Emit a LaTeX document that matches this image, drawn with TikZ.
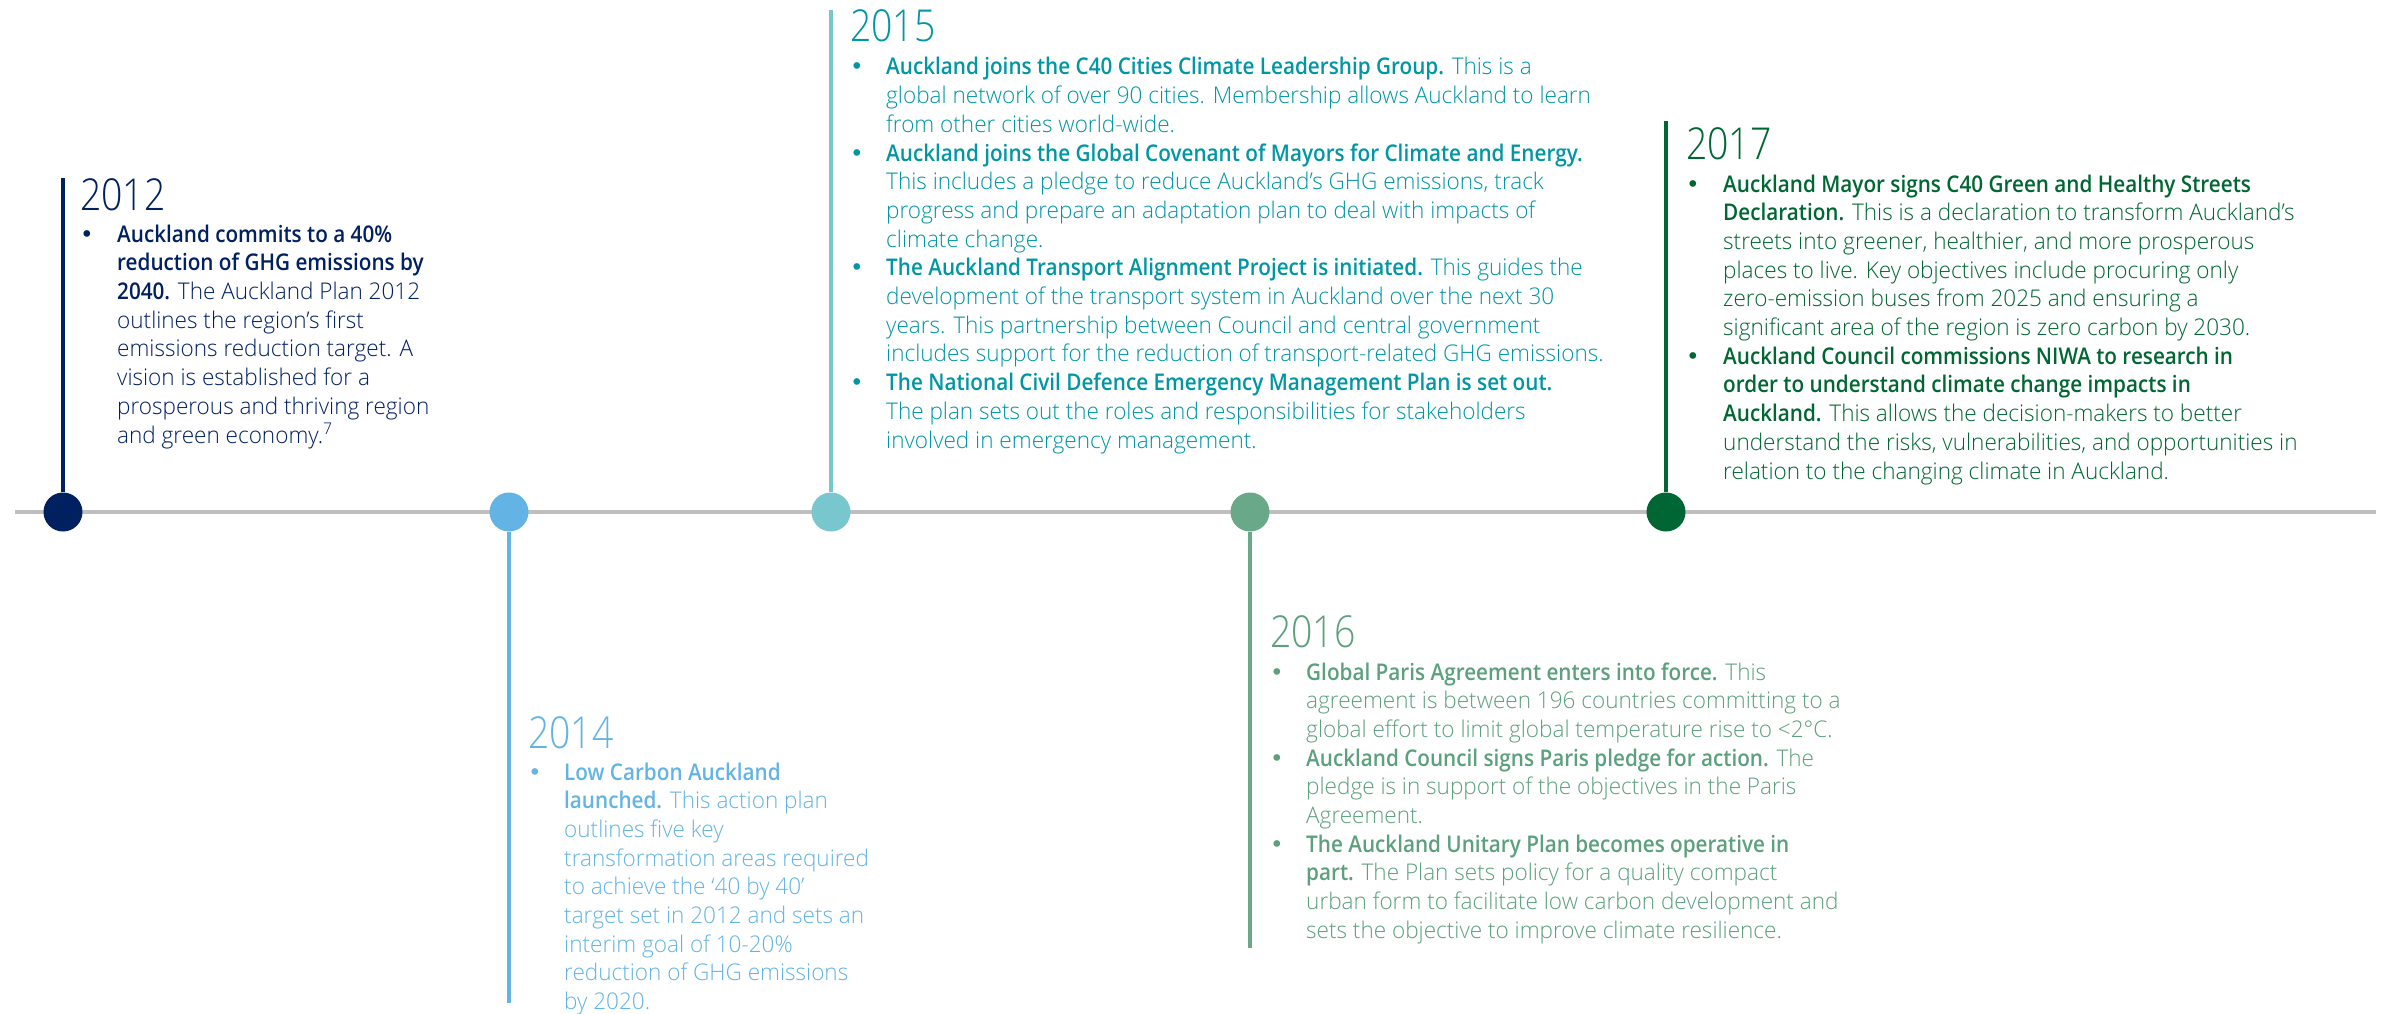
\documentclass[tikz,border=0pt]{standalone}
\usepackage{fontspec}
\setmainfont{Open Sans}[UprightFont={* Light},UprightFeatures={FakeStretch=0.98},
  BoldFont={* Semibold},BoldFeatures={FakeStretch=0.9}]
\newfontfamily\yearfont{Open Sans Light}[FakeStretch=0.85]
\newfontfamily\dotfont{DejaVu Sans}
\usetikzlibrary{positioning}

\definecolor{navy}{RGB}{0,32,96}
\definecolor{sky}{RGB}{99,180,228}
\definecolor{lagoon}{RGB}{120,198,206}
\definecolor{lagoontext}{RGB}{0,150,164}
\definecolor{sage}{RGB}{106,168,138}
\definecolor{sagetext}{RGB}{92,160,126}
\definecolor{forest}{RGB}{0,102,51}
\definecolor{axisgrey}{RGB}{191,191,191}

\newcommand\bul{{\dotfont •}}

\tikzset{
  dot/.style={circle,inner sep=0pt,minimum size=39pt},
  stem/.style={line width=3.5pt},
  axisline/.style={line width=4pt,axisgrey},
  year/.style={anchor=base west,inner sep=0pt,font=\yearfont\fontsize{44}{44}\selectfont},
  body/.style={anchor=base west,inner sep=0pt,font=\fontsize{23}{28.7}\selectfont},
}

\begin{document}
\begin{tikzpicture}[x=1pt,y=-1pt]
			%%%%% START %%%%%
			\def\ay{512}
			\def\xa{63}
			\def\xb{509}
			\def\xc{831}
			\def\xd{1250}
			\def\xe{1666}
			
			\path[fill=white] (0,0) rectangle (2387,1014);
			\useasboundingbox (0,0) rectangle (2387,1014);
			
			% the axis
			\coordinate (tl0) at (15,\ay);
			\coordinate (tl1) at (2376,\ay);
			\draw[axisline] (tl0) -- (tl1);
			
			% dots on the axis
			\node[dot,fill=navy] (d12) at (\xa,\ay) {};
			\node[dot,fill=sky] (d14) at (\xb,\ay) {};
			\node[dot,fill=lagoon] (d15) at (\xc,\ay) {};
			\node[dot,fill=sage] (d16) at (\xd,\ay) {};
			\node[dot,fill=forest] (d17) at (\xe,\ay) {};
			
			% stems, up or down
			\coordinate (s12) at (\xa,178);
			\coordinate (s14) at (\xb,1003);
			\coordinate (s15) at (\xc,10);
			\coordinate (s16) at (\xd,948);
			\coordinate (s17) at (\xe,121);
			\draw[stem,navy] (s12) -- (d12);
			\draw[stem,sky] (d14) -- (s14);
			\draw[stem,lagoon] (s15) -- (d15);
			\draw[stem,sage] (d16) -- (s16);
			\draw[stem,forest] (s17) -- (d17);
			
			% 2012
			\node[year,text=navy] (y12) at (80,210) {2012};
			\node[body,text=navy] (b12) at (80,242) {\begin{tabular}[t]{@{}p{37pt}@{}l@{}}
				\bul & \textbf{Auckland commits to a 40\%}\\
				& \textbf{reduction of GHG emissions by}\\
				& \textbf{2040.} The Auckland Plan 2012\\
				& outlines the region’s first\\
				& emissions reduction target. A\\
				& vision is established for a\\
				& prosperous and thriving region\\
				& and green economy.\textsuperscript{7}
			\end{tabular}};
			
			% 2014
			\node[year,text=sky] (y14) at (528,748) {2014};
			\node[body,text=sky] (b14) at (528,780) {\begin{tabular}[t]{@{}p{36pt}@{}l@{}}
				\bul & \textbf{Low Carbon Auckland}\\
				& \textbf{launched.} This action plan\\
				& outlines five key\\
				& transformation areas required\\
				& to achieve the ‘40 by 40’\\
				& target set in 2012 and sets an\\
				& interim goal of 10-20\%\\
				& reduction of GHG emissions\\
				& by 2020.
			\end{tabular}};
			
			% 2015
			\node[year,text=lagoontext] (y15) at (850,42) {2015};
			\node[body,text=lagoontext] (b15) at (850,75) {\begin{tabular}[t]{@{}p{36pt}@{}l@{}}
				\bul & \textbf{Auckland joins the C40 Cities Climate Leadership Group.} This is a\\
				& global network of over 90 cities. Membership allows Auckland to learn\\
				& from other cities world-wide.\\
				\bul & \textbf{Auckland joins the Global Covenant of Mayors for Climate and Energy.}\\
				& This includes a pledge to reduce Auckland’s GHG emissions, track\\
				& progress and prepare an adaptation plan to deal with impacts of\\
				& climate change.\\
				\bul & \textbf{The Auckland Transport Alignment Project is initiated.} This guides the\\
				& development of the transport system in Auckland over the next 30\\
				& years. This partnership between Council and central government\\
				& includes support for the reduction of transport-related GHG emissions.\\
				\bul & \textbf{The National Civil Defence Emergency Management Plan is set out.}\\
				& The plan sets out the roles and responsibilities for stakeholders\\
				& involved in emergency management.
			\end{tabular}};
			
			% 2016
			\node[year,text=sagetext] (y16) at (1270,647) {2016};
			\node[body,text=sagetext] (b16) at (1270,680) {\begin{tabular}[t]{@{}p{36pt}@{}l@{}}
				\bul & \textbf{Global Paris Agreement enters into force.} This\\
				& agreement is between 196 countries committing to a\\
				& global effort to limit global temperature rise to <2°C.\\
				\bul & \textbf{Auckland Council signs Paris pledge for action.} The\\
				& pledge is in support of the objectives in the Paris\\
				& Agreement.\\
				\bul & \textbf{The Auckland Unitary Plan becomes operative in}\\
				& \textbf{part.} The Plan sets policy for a quality compact\\
				& urban form to facilitate low carbon development and\\
				& sets the objective to improve climate resilience.
			\end{tabular}};
			
			% 2017
			\node[year,text=forest] (y17) at (1686,159) {2017};
			\node[body,text=forest] (b17) at (1686,192) {\begin{tabular}[t]{@{}p{37pt}@{}l@{}}
				\bul & \textbf{Auckland Mayor signs C40 Green and Healthy Streets}\\
				& \textbf{Declaration.} This is a declaration to transform Auckland’s\\
				& streets into greener, healthier, and more prosperous\\
				& places to live. Key objectives include procuring only\\
				& zero-emission buses from 2025 and ensuring a\\
				& significant area of the region is zero carbon by 2030.\\
				\bul & \textbf{Auckland Council commissions NIWA to research in}\\
				& \textbf{order to understand climate change impacts in}\\
				& \textbf{Auckland.} This allows the decision-makers to better\\
				& understand the risks, vulnerabilities, and opportunities in\\
				& relation to the changing climate in Auckland.
			\end{tabular}};
			%%%%% END %%%%%
\end{tikzpicture}
\end{document}
